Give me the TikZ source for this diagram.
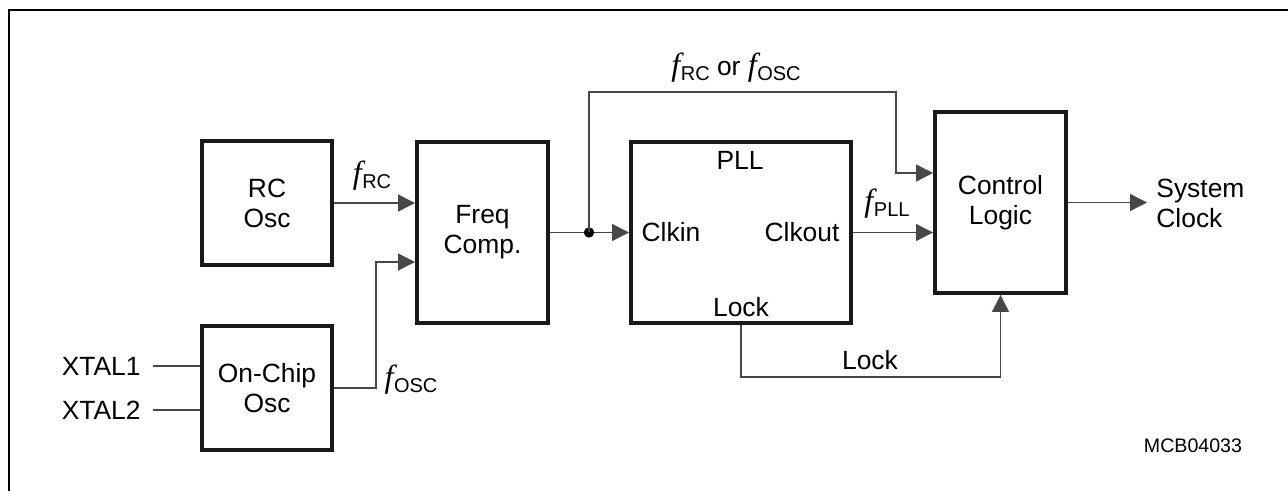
\documentclass[tikz,border=0pt]{standalone}
\usepackage{fontspec}
\setmainfont{Liberation Sans}
\newfontfamily\serifit{Liberation Serif}
\usetikzlibrary{arrows.meta}
\newcommand\fsub[1]{{\serifit\itshape\fontsize{16}{16}\selectfont f}\kern0.3pt\raisebox{-2.4pt}{\fontsize{10}{10}\selectfont #1}}
\tikzset{
  blk/.style={draw=black!90, line width=1.8pt, rectangle, inner sep=0pt, align=center, font=\fontsize{13.2}{15}\selectfont},
  txt/.style={inner sep=0pt, align=left, font=\fontsize{13.2}{15}\selectfont},
  conn/.style={draw=black!72, line width=0.65pt},
  arr/.style={conn, -{Triangle[length=8.5pt,width=8.5pt]}},
}
\begin{document}
\begin{tikzpicture}[x=0.5pt,y=-0.5pt]
\useasboundingbox (0,0) rectangle (1288,491);
% frame
\draw[line width=1.1pt] (1288,10) -- (9,10) -- (9,491);
% blocks
\node[blk, minimum width=65.2pt, minimum height=62.2pt] (rc) at (267,203) {RC\\Osc};
\node[blk, minimum width=65.2pt, minimum height=62.2pt] (oc) at (267,388) {On-Chip\\Osc};
\node[blk, minimum width=65.7pt, minimum height=90.7pt] (fc) at (482.5,232.5) {Freq\\Comp.};
\node[blk, minimum width=110.2pt, minimum height=90.7pt] (pll) at (741,232.5) {};
\node[blk, minimum width=65.7pt, minimum height=90.7pt] (cl) at (1000.5,202.5) {Control\\Logic};
% texts inside PLL
\node[txt] (plllbl) at (740,160) {PLL};
\node[txt] (clkin) at (671,232) {Clkin};
\node[txt] (clkout) at (802,232) {Clkout};
\node[txt] (locklbl) at (741,307) {Lock};
% xtal
\node[txt, anchor=east] (x1) at (141,366) {XTAL1};
\node[txt, anchor=east] (x2) at (141,410) {XTAL2};
\draw[conn] (x1.east) ++(12,0) coordinate (x1s) -- (x1s -| oc.west);
\draw[conn] (x2.east) ++(12,0) coordinate (x2s) -- (x2s -| oc.west);
% fRC
\draw[arr] (rc.east) -- (rc.east -| fc.west);
\node[txt] (lrc) at (372,176) {\fsub{RC}};
% fOSC
\coordinate (bend) at (376,262);
\draw[arr] (oc.east) -| (bend) -- (bend -| fc.west);
\node[txt] (losc) at (411,380) {\fsub{OSC}};
% freq -> pll
\coordinate (j) at (589,232.5);
\draw[arr] (fc.east) -- (pll.west);
\fill (j) circle[radius=2.6pt];
% top route
\coordinate (tr) at (896,92);
\coordinate (ci) at (933,173);
\draw[arr] (j) |- (tr) |- (ci);
\node[txt] (lor) at (736,68) {\fsub{RC} or \fsub{OSC}};
% clkout -> control
\draw[arr] (pll.east) -- (pll.east -| cl.west);
\node[txt] (lpll) at (887,204) {\fsub{PLL}};
% control -> system clock
\coordinate (so) at (1147,202.5);
\draw[arr] (cl.east) -- (so);
\node[txt, anchor=west] (sys) at (1156,203) {System\\Clock};
% lock
\coordinate (lk) at (1000.5,377);
\draw[arr] (pll.south) |- (lk) -- (cl.south);
\node[txt] (llock) at (870,360) {Lock};
% id
\node[txt, font=\fontsize{9.8}{12}\selectfont] (mcb) at (1193,446) {MCB04033};
\end{tikzpicture}
\end{document}
